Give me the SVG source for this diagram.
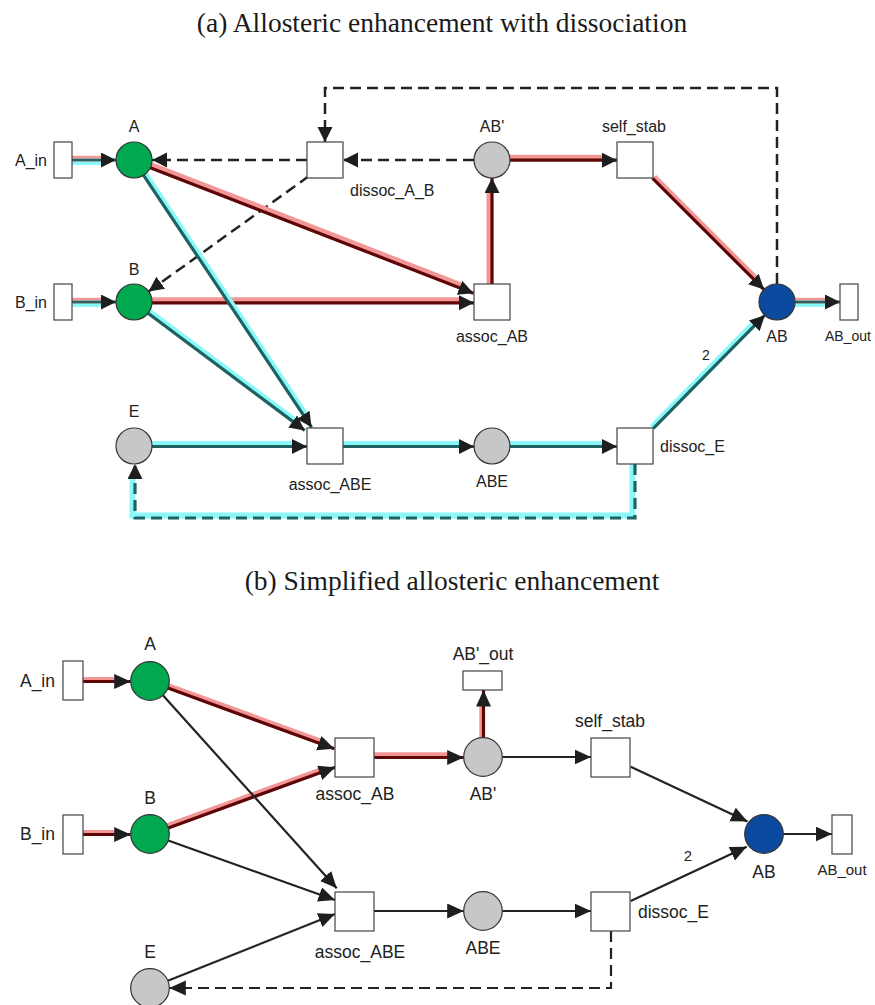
<svg xmlns="http://www.w3.org/2000/svg" width="875" height="1005" viewBox="0 0 875 1005">
  <defs>
    <style>
      .title { font-family: "Liberation Serif", "Times New Roman", serif; font-size: 27.5px; fill: #1a1a1a; }
      .lbl { font-family: "Liberation Sans", Arial, sans-serif; font-size: 16px; fill: #222; }
      .lbl2 { font-family: "Liberation Sans", Arial, sans-serif; font-size: 17.5px; fill: #222; }
      .sm { font-family: "Liberation Sans", Arial, sans-serif; font-size: 14px; fill: #222; }
      .sm2 { font-family: "Liberation Sans", Arial, sans-serif; font-size: 15px; fill: #222; }
      .mid { text-anchor: middle; }
      .end { text-anchor: end; }
      .place { stroke: #333; stroke-width: 1.2; }
      .trans { fill: #fff; stroke: #444; stroke-width: 1.2; }
      .green { fill: #00a94f; }
      .grey { fill: #c6c7c9; }
      .blue { fill: #0b4a9e; }
      .hr { fill: none; stroke: #f29696; stroke-width: 6; }
      .cr { fill: none; stroke: #5e0606; stroke-width: 3.2; }
      .hc { fill: none; stroke: #8af8f8; stroke-width: 6; }
      .cc { fill: none; stroke: #1d6363; stroke-width: 3.2; }
      .sp { fill: none; stroke: #f29696; stroke-width: 2.4; }
      .sc { fill: none; stroke: #8af8f8; stroke-width: 3.3; }
      .sk { fill: none; stroke: #2f5f5f; stroke-width: 3.2; }
      .blk { fill: none; stroke: #222; stroke-width: 2.5; }
      .blk2 { fill: none; stroke: #222; stroke-width: 2.2; }
      .dash { stroke-dasharray: 11 6; }
    </style>
    <marker id="ah" markerUnits="userSpaceOnUse" markerWidth="16" markerHeight="16" refX="15" refY="7.5" orient="auto">
      <path d="M0,0 L15,7.5 L0,15 z" fill="#1e1e1e"/>
    </marker>
    <marker id="ah2" markerUnits="userSpaceOnUse" markerWidth="18" markerHeight="18" refX="16.5" refY="7.5" orient="auto">
      <path d="M0,0 L16.5,7.5 L0,15 z" fill="#1e1e1e"/>
    </marker>
  </defs>

  <rect x="0" y="0" width="875" height="1005" fill="#fff"/>

  <!-- panel titles -->
  <text class="title mid" x="442" y="32">(a) Allosteric enhancement with dissociation</text>
  <text class="title mid" x="452" y="590">(b) Simplified allosteric enhancement</text>

  <!-- ===================== panel (a) connectors ===================== -->
  <g id="edges-a">
    <!-- A_in -> A -->
    <path class="sp" d="M72,157 H101"/>
    <path class="sc" d="M72,163.3 H101"/>
    <path class="sk" d="M72,160 H116" marker-end="url(#ah)"/>
    <!-- B_in -> B -->
    <path class="sp" d="M72,299 H101"/>
    <path class="sc" d="M72,305.3 H101"/>
    <path class="sk" d="M72,302 H116" marker-end="url(#ah)"/>

    <!-- dissoc_A_B -> A -->
    <path class="blk dash" d="M307,160 H152" marker-end="url(#ah)"/>
    <!-- AB' -> dissoc_A_B -->
    <path class="blk dash" d="M474,160 H343" marker-end="url(#ah)"/>
    <!-- AB -> dissoc_A_B (loop over the top) -->
    <path class="blk dash" d="M777,284 V88 H325 V142" marker-end="url(#ah)"/>
    <!-- dissoc_A_B -> B -->
    <path class="blk dash" d="M309,176 L148.6,291.5" marker-end="url(#ah)"/>

    <!-- A -> assoc_AB -->
    <path class="hr" d="M151.3,165.2 L460.5,285.2"/>
    <path class="cr" d="M150.3,167.7 L473.5,293.2" marker-end="url(#ah)"/>
    <!-- B -> assoc_AB -->
    <path class="hr" d="M152,300.3 H460"/>
    <path class="cr" d="M152,302.8 H474" marker-end="url(#ah)"/>
    <!-- assoc_AB -> AB' -->
    <path class="hr" d="M489.5,284 V193"/>
    <path class="cr" d="M492,284 V178" marker-end="url(#ah)"/>
    <!-- AB' -> self_stab -->
    <path class="hr" d="M510,157.8 H602"/>
    <path class="cr" d="M510,160.2 H617" marker-end="url(#ah)"/>
    <!-- self_stab -> AB -->
    <path class="hr" d="M654,177 L754.8,277.6"/>
    <path class="cr" d="M652.6,178.4 L764,289.6" marker-end="url(#ah)"/>

    <!-- AB -> AB_out -->
    <path class="sp" d="M795,299 H825"/>
    <path class="sc" d="M795,305.3 H825"/>
    <path class="sk" d="M795,302 H840" marker-end="url(#ah)"/>

    <!-- A -> assoc_ABE -->
    <path class="hc" d="M145.2,174.2 L304.9,413.7"/>
    <path class="cc" d="M143.6,175.3 L311.6,427.3" marker-end="url(#ah)"/>
    <!-- B -> assoc_ABE -->
    <path class="hc" d="M149.3,311.6 L293.9,419.8"/>
    <path class="cc" d="M148.1,313.2 L304.7,430.4" marker-end="url(#ah)"/>
    <!-- E -> assoc_ABE -->
    <path class="hc" d="M152,444 H292"/>
    <path class="cc" d="M152,446.5 H307" marker-end="url(#ah)"/>
    <!-- assoc_ABE -> ABE -->
    <path class="hc" d="M343,444 H459"/>
    <path class="cc" d="M343,446.5 H474" marker-end="url(#ah)"/>
    <!-- ABE -> dissoc_E -->
    <path class="hc" d="M510,444 H602"/>
    <path class="cc" d="M510,446.5 H617" marker-end="url(#ah)"/>
    <!-- dissoc_E -> AB (weight 2) -->
    <path class="hc" d="M652,427 L752.8,324.4"/>
    <path class="cc" d="M653.4,428.4 L764.8,315.2" marker-end="url(#ah)"/>
    <!-- dissoc_E -> E (loop underneath) -->
    <path class="hc" d="M632.5,464 V515.5 H132.5 V479"/>
    <path class="cc dash" d="M635,464 V518 H135 V464" marker-end="url(#ah)"/>

    <text class="sm mid" x="706" y="360">2</text>
  </g>

  <!-- ===================== panel (a) nodes ===================== -->
  <g id="a-A_in"><rect class="trans" x="54" y="142" width="18" height="36"/><text class="lbl end" x="47" y="166">A_in</text></g>
  <g id="a-B_in"><rect class="trans" x="54" y="284" width="18" height="36"/><text class="lbl end" x="47" y="308">B_in</text></g>
  <g id="a-A"><circle class="place green" cx="134" cy="160" r="18"/><text class="lbl mid" x="134" y="132">A</text></g>
  <g id="a-B"><circle class="place green" cx="134" cy="302" r="18"/><text class="lbl mid" x="134" y="275">B</text></g>
  <g id="a-E"><circle class="place grey" cx="134" cy="446" r="18"/><text class="lbl mid" x="134" y="417">E</text></g>
  <g id="a-dissoc_A_B"><rect class="trans" x="307" y="142" width="36" height="36"/><text class="lbl" x="350" y="196">dissoc_A_B</text></g>
  <g id="a-assoc_AB"><rect class="trans" x="474" y="284" width="36" height="36"/><text class="lbl mid" x="492" y="342">assoc_AB</text></g>
  <g id="a-assoc_ABE"><rect class="trans" x="307" y="428" width="36" height="36"/><text class="lbl mid" x="330" y="490">assoc_ABE</text></g>
  <g id="a-ABp"><circle class="place grey" cx="492" cy="160" r="18"/><text class="lbl mid" x="492" y="132">AB'</text></g>
  <g id="a-ABE"><circle class="place grey" cx="492" cy="446" r="18"/><text class="lbl mid" x="492" y="487">ABE</text></g>
  <g id="a-self_stab"><rect class="trans" x="617" y="142" width="36" height="36"/><text class="lbl mid" x="634" y="132">self_stab</text></g>
  <g id="a-dissoc_E"><rect class="trans" x="617" y="428" width="36" height="36"/><text class="lbl" x="660" y="452">dissoc_E</text></g>
  <g id="a-AB"><circle class="place blue" cx="777" cy="302" r="18"/><text class="lbl mid" x="777" y="342">AB</text></g>
  <g id="a-AB_out"><rect class="trans" x="840" y="284" width="18" height="36"/><text class="sm mid" x="848" y="341">AB_out</text></g>

  <!-- ===================== panel (b) connectors ===================== -->
  <g id="edges-b">
    <!-- A_in -> A -->
    <path class="hr" d="M83,679 H114" style="stroke-width:4"/>
    <path class="cr" d="M83,681.5 H130.7" marker-end="url(#ah2)"/>
    <!-- B_in -> B -->
    <path class="hr" d="M83,832 H114" style="stroke-width:4"/>
    <path class="cr" d="M83,834.5 H130.7" marker-end="url(#ah2)"/>
    <!-- A -> assoc_AB -->
    <path class="hr" d="M168.6,686.2 L320,741.4"/>
    <path class="cr" d="M167.9,688.1 L334.3,748.8" marker-end="url(#ah2)"/>
    <!-- B -> assoc_AB -->
    <path class="hr" d="M167.6,826 L319.5,770.8"/>
    <path class="cr" d="M168.3,827.9 L335.2,767.2" marker-end="url(#ah2)"/>
    <!-- assoc_AB -> AB' -->
    <path class="hr" d="M374,755.3 H448"/>
    <path class="cr" d="M374,757.5 H463.7" marker-end="url(#ah2)"/>
    <!-- AB' -> AB'_out -->
    <path class="hr" d="M481.3,737.7 V706" style="stroke-width:4"/>
    <path class="cr" d="M483.5,737.7 V690" marker-end="url(#ah2)"/>

    <!-- A -> assoc_ABE -->
    <path class="blk2" d="M162.9,695.3 L336.7,888.3" marker-end="url(#ah2)"/>
    <!-- B -> assoc_ABE -->
    <path class="blk2" d="M168.2,840.5 L335,900" marker-end="url(#ah2)"/>
    <!-- E -> assoc_ABE -->
    <path class="blk2" d="M167.9,980.8 L335,914" marker-end="url(#ah2)"/>
    <!-- assoc_ABE -> ABE -->
    <path class="blk2" d="M374,911 H463.7" marker-end="url(#ah2)"/>
    <!-- ABE -> dissoc_E -->
    <path class="blk2" d="M502.3,911 H591" marker-end="url(#ah2)"/>
    <!-- AB' -> self_stab -->
    <path class="blk2" d="M502.3,757 H591" marker-end="url(#ah2)"/>
    <!-- self_stab -> AB -->
    <path class="blk2" d="M630.7,766.7 L747.5,821.5" marker-end="url(#ah2)"/>
    <!-- dissoc_E -> AB (weight 2) -->
    <path class="blk2" d="M630.7,901 L746.7,846.7" marker-end="url(#ah2)"/>
    <!-- AB -> AB_out -->
    <path class="blk2" d="M783.3,834 H832" marker-end="url(#ah2)"/>
    <!-- dissoc_E -> E -->
    <path class="blk2 dash" d="M611,931 V988 H169.3" marker-end="url(#ah2)"/>

    <text class="sm2 mid" x="688" y="861">2</text>
  </g>

  <!-- ===================== panel (b) nodes ===================== -->
  <g id="b-A_in"><rect class="trans" x="63" y="661" width="20" height="39"/><text class="lbl2 end" x="55" y="687">A_in</text></g>
  <g id="b-B_in"><rect class="trans" x="63" y="815" width="20" height="39"/><text class="lbl2 end" x="55" y="840">B_in</text></g>
  <g id="b-A"><circle class="place green" cx="150" cy="681" r="19.3"/><text class="lbl2 mid" x="150" y="650">A</text></g>
  <g id="b-B"><circle class="place green" cx="150" cy="834" r="19.3"/><text class="lbl2 mid" x="150" y="804">B</text></g>
  <g id="b-E"><circle class="place grey" cx="150" cy="988" r="19.3"/><text class="lbl2 mid" x="150" y="958">E</text></g>
  <g id="b-assoc_AB"><rect class="trans" x="335" y="738" width="39" height="39"/><text class="lbl2 mid" x="355" y="800">assoc_AB</text></g>
  <g id="b-assoc_ABE"><rect class="trans" x="335" y="892" width="39" height="39"/><text class="lbl2 mid" x="360" y="958">assoc_ABE</text></g>
  <g id="b-ABp_out"><rect class="trans" x="463" y="671" width="39" height="19"/><text class="lbl2 mid" x="483" y="660">AB'_out</text></g>
  <g id="b-ABp"><circle class="place grey" cx="483" cy="757" r="19.3"/><text class="lbl2 mid" x="483" y="800">AB'</text></g>
  <g id="b-ABE"><circle class="place grey" cx="483" cy="911" r="19.3"/><text class="lbl2 mid" x="483" y="954">ABE</text></g>
  <g id="b-self_stab"><rect class="trans" x="591" y="738" width="39" height="39"/><text class="lbl2 mid" x="610" y="727">self_stab</text></g>
  <g id="b-dissoc_E"><rect class="trans" x="591" y="892" width="39" height="39"/><text class="lbl2" x="638" y="918">dissoc_E</text></g>
  <g id="b-AB"><circle class="place blue" cx="764" cy="834" r="19.3"/><text class="lbl2 mid" x="764" y="878">AB</text></g>
  <g id="b-AB_out"><rect class="trans" x="832" y="815" width="20" height="39"/><text class="sm2 mid" x="842" y="875">AB_out</text></g>
</svg>
